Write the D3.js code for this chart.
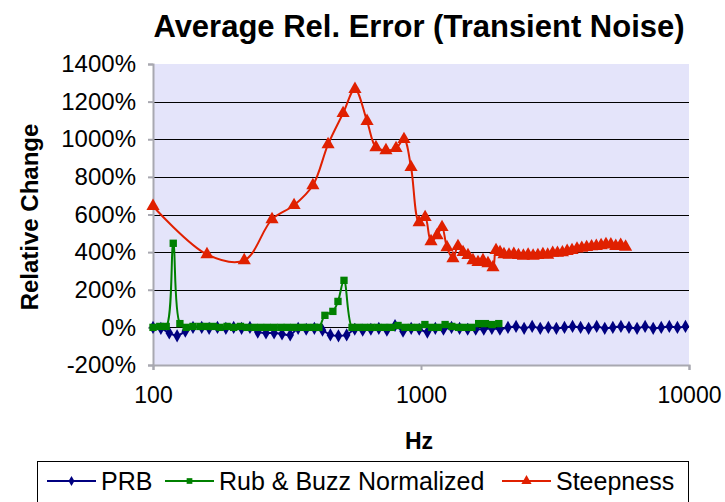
<!DOCTYPE html>
<html>
<head>
<meta charset="utf-8">
<script src="https://cdn.jsdelivr.net/npm/d3@7"></script>
<style>
  body { margin: 0; background: #fff; }
  svg text { font-family: "Liberation Sans", Arial, sans-serif; }
</style>
</head>
<body>
<div id="chart"></div>
<script>
// ---- data ----
var prbHz = [100, 107, 115, 123, 132, 141, 152, 162, 174, 187, 200, 214, 230, 246, 264, 283, 303, 325, 348, 373,
  400, 429, 459, 492, 528, 566, 606, 650, 696, 746, 800, 857, 919, 985, 1056, 1131, 1213, 1300, 1393, 1493,
  1600, 1715, 1838, 1970, 2111, 2263, 2425, 2599, 2786, 2986, 3200, 3430, 3676, 3940, 4222, 4525, 4850, 5198,
  5572, 5971, 6400, 6859, 7352, 7879, 8445, 9051, 9701];
var prbVal = [0, -5, -30, -45, -20, 0, 0, -5, 0, -5, 0, -5, 0, -25, -30, -30, -35, -40, -5, -10,
  -5, -15, -40, -45, -40, -10, -15, -10, -5, -15, 10, -20, -5, -10, -25, -5, -10, 0, -5, -10,
  -10, -10, -5, -10, 0, 5, -5, 5, -5, 0, -5, 0, 5, 0, -5, 5, -5, 0,
  5, 0, -5, 5, -5, 0, 5, 0, 5];

var rbHz = [100, 106, 112, 119, 126, 133, 141, 150, 159, 168, 178, 189, 200, 212, 224, 238, 252, 267, 283, 300,
  317, 336, 356, 377, 400, 416, 438, 469, 490, 516, 553, 580, 615, 651, 690, 731, 775, 821, 870, 921,
  976, 1034, 1096, 1161, 1230, 1303, 1380, 1462, 1549, 1641, 1739, 1842, 1951];
var rbVal = [0, 5, 5, 447, 20, 0, 5, 5, 5, 5, 0, 5, 0, 5, 0, 0, 0, 0, 0, 0,
  0, 0, 0, 0, 0, 0, 64, 85, 138, 250, 0, 0, 0, 0, 0, 0, 0, 10, 0, 0,
  0, 15, 0, 0, 15, 5, 0, 0, 0, 20, 20, 15, 20];

var stHz = [100, 159, 219, 278, 336, 395, 450, 512, 567, 629, 679, 740, 807, 864, 918, 984, 1036, 1090, 1148, 1198,
  1250, 1316, 1374, 1435, 1497, 1563, 1632, 1703, 1778, 1856, 1905, 1972,
  2040, 2130, 2220, 2310, 2410, 2510, 2620, 2730, 2850, 2970, 3100, 3230, 3370, 3510, 3660, 3820, 3980, 4150,
  4330, 4510, 4700, 4900, 5110, 5330, 5560, 5800];
var stVal = [644, 388, 356, 574, 649, 755, 973, 1138, 1266, 1096, 957, 941, 952, 1000, 851, 558, 585, 457, 489, 532,
  425, 367, 431, 399, 383, 356, 346, 356, 340, 319, 410, 399,
  388, 385, 390, 383, 380, 386, 380, 383, 388, 385, 395, 395, 398, 405, 410, 418, 422, 426,
  430, 432, 436, 442, 440, 432, 438, 428];

var yTicks = [-200, 0, 200, 400, 600, 800, 1000, 1200, 1400];
var xTicks = [100, 1000, 10000];
var gridVals = [0, 200, 400, 600, 800, 1000, 1200];

var seriesNames = ["PRB", "Rub & Buzz Normalized", "Steepness"];
var seriesColors = ["#000080", "#008000", "#E02000"];

// ---- layout ----
var W = 725, H = 502;
var plot = {left: 153, right: 689, top: 64, bottom: 365};

var svg = d3.select("#chart").append("svg")
  .attr("width", W)
  .attr("height", H);

var x = d3.scaleLog().domain([100, 10000]).range([plot.left, plot.right]);
var y = d3.scaleLinear().domain([-200, 1400]).range([plot.bottom, plot.top]);

// plot background
svg.append("rect")
  .attr("x", plot.left).attr("y", plot.top)
  .attr("width", plot.right - plot.left).attr("height", plot.bottom - plot.top)
  .attr("fill", "#E4E4FA");

// gridlines
svg.selectAll(".grid").data(gridVals).enter().append("line")
  .attr("class", "grid")
  .attr("x1", plot.left).attr("x2", plot.right)
  .attr("y1", function(d) { return Math.round(y(d)) + 0.5; })
  .attr("y2", function(d) { return Math.round(y(d)) + 0.5; })
  .attr("stroke", "#000").attr("stroke-width", 1);

// axes
var yAxis = d3.axisLeft(y).tickValues(yTicks).tickSize(5).tickPadding(12)
  .tickFormat(function(d) { return d + "%"; });
var xAxis = d3.axisBottom(x).tickValues(xTicks).tickSize(5).tickPadding(17)
  .tickFormat(d3.format("d"));

var gy = svg.append("g").attr("transform", "translate(" + plot.left + ",0)").call(yAxis);
var gx = svg.append("g").attr("transform", "translate(0," + plot.bottom + ")").call(xAxis);

[gx, gy].forEach(function(g) {
  g.select(".domain").attr("stroke", "#A8A8B0").attr("stroke-width", 2);
  g.selectAll(".tick line").attr("stroke", "#A8A8B0").attr("stroke-width", 2);
  g.selectAll(".tick text")
    .attr("fill", "#000")
    .style("font-family", "Liberation Sans, Arial, sans-serif");
});
gx.selectAll(".tick text").style("font-size", "23px");
gy.selectAll(".tick text").style("font-size", "24px");

// series
var series = [
  {name: seriesNames[0], hz: prbHz, val: prbVal, color: seriesColors[0], sym: d3.symbolDiamond, size: 50},
  {name: seriesNames[1], hz: rbHz, val: rbVal, color: seriesColors[1], sym: d3.symbolSquare, size: 54},
  {name: seriesNames[2], hz: stHz, val: stVal, color: seriesColors[2], sym: d3.symbolTriangle, size: 75}
];

var line = d3.line()
  .x(function(d) { return x(d[0]); })
  .y(function(d) { return y(d[1]); })
  .curve(d3.curveCatmullRom.alpha(0.5));

series.forEach(function(s) {
  var pts = s.hz.map(function(h, i) { return [h, s.val[i]]; });
  svg.append("path")
    .datum(pts)
    .attr("d", line)
    .attr("fill", "none")
    .attr("stroke", s.color)
    .attr("stroke-width", 2);
  svg.selectAll(null).data(pts).enter().append("path")
    .attr("transform", function(d) { return "translate(" + x(d[0]) + "," + y(d[1]) + ")"; })
    .attr("d", d3.symbol().type(s.sym).size(s.size))
    .attr("fill", s.color);
});

// title
svg.append("text")
  .attr("x", 419).attr("y", 37)
  .attr("text-anchor", "middle")
  .attr("font-weight", "bold")
  .attr("font-size", 31)
  .text("Average Rel. Error (Transient Noise)");

// axis titles
svg.append("text")
  .attr("transform", "translate(38,217) rotate(-90)")
  .attr("text-anchor", "middle")
  .attr("font-weight", "bold")
  .attr("font-size", 24)
  .text("Relative Change");

svg.append("text")
  .attr("x", 419).attr("y", 449)
  .attr("text-anchor", "middle")
  .attr("font-weight", "bold")
  .attr("font-size", 23)
  .text("Hz");

// legend
var legend = svg.append("g");
legend.append("rect")
  .attr("x", 37.5).attr("y", 461.5)
  .attr("width", 651).attr("height", 60)
  .attr("fill", "#fff").attr("stroke", "#000").attr("stroke-width", 1);

var legendX = [47, 165, 502];
series.forEach(function(s, i) {
  var lx = legendX[i], ly = 481;
  legend.append("line")
    .attr("x1", lx).attr("x2", lx + 49)
    .attr("y1", ly).attr("y2", ly)
    .attr("stroke", s.color).attr("stroke-width", 2);
  legend.append("path")
    .attr("transform", "translate(" + (lx + 24.5) + "," + ly + ")")
    .attr("d", d3.symbol().type(s.sym).size(s.size * 0.6))
    .attr("fill", s.color);
  legend.append("text")
    .attr("x", lx + 54).attr("y", ly + 9)
    .attr("font-size", 25)
    .text(s.name);
});
</script>
</body>
</html>
